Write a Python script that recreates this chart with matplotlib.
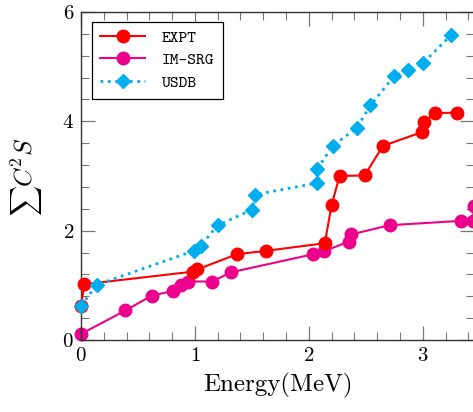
import numpy as np
import matplotlib
matplotlib.use('Agg')
import matplotlib.pyplot as plt
from matplotlib.ticker import MultipleLocator

plt.rcParams['font.family'] = 'serif'
plt.rcParams['font.serif'] = ['cmr10']
plt.rcParams['mathtext.fontset'] = 'cm'
plt.rcParams['axes.formatter.use_mathtext'] = True

# experimental data
expt_x = [0.0, 0.03, 0.98, 1.02, 1.37, 1.62, 2.14, 2.20, 2.27, 2.49, 2.65, 2.99, 3.01, 3.11, 3.30]
expt_y = [0.63, 1.02, 1.25, 1.29, 1.57, 1.63, 1.77, 2.47, 3.00, 3.01, 3.55, 3.80, 3.98, 4.15, 4.16]

# IM-SRG
imsrg_x = [0.0, 0.39, 0.62, 0.81, 0.88, 0.94, 1.15, 1.32, 2.04, 2.13, 2.35, 2.37, 2.71, 3.34, 3.44, 3.45]
imsrg_y = [0.11, 0.54, 0.81, 0.90, 1.01, 1.07, 1.07, 1.24, 1.57, 1.62, 1.80, 1.93, 2.10, 2.18, 2.18, 2.45]

# USDB
usdb_x = [0.0, 0.14, 0.99, 1.05, 1.20, 1.50, 1.53, 2.07, 2.07, 2.21, 2.42, 2.54, 2.75, 2.87, 3.00, 3.25]
usdb_y = [0.63, 1.01, 1.63, 1.72, 2.10, 2.38, 2.66, 2.87, 3.12, 3.55, 3.88, 4.29, 4.83, 4.93, 5.06, 5.58]

red = '#ff0000'
pink = '#ec008c'
cyan = '#00aeef'

fig = plt.figure(figsize=(4.73, 4.12), dpi=100)
ax = fig.add_axes([81/473, 72/412, 393/473, 328/412])

ax.plot(expt_x, expt_y, color=red, lw=1.5, marker='o', ms=9, label='EXPT', zorder=3, clip_on=False)
ax.plot(imsrg_x, imsrg_y, color=pink, lw=1.5, marker='o', ms=9, label='IM-SRG', zorder=2, clip_on=False)
ax.plot(usdb_x, usdb_y, color=cyan, lw=2, ls=':', marker='D', ms=7.5, label='USDB', zorder=4, clip_on=False)

ax.set_xlim(0, 3.45)
ax.set_ylim(0, 6)
ax.xaxis.set_major_locator(MultipleLocator(1))
ax.xaxis.set_minor_locator(MultipleLocator(0.2))
ax.yaxis.set_major_locator(MultipleLocator(2))
ax.yaxis.set_minor_locator(MultipleLocator(0.4))
ax.tick_params(which='both', direction='in', top=True, right=True, color='#777777', labelsize=15)
ax.tick_params(which='major', length=10, width=0.9, pad=5)
ax.tick_params(which='minor', length=6, width=0.8)
for s in ax.spines.values():
    s.set_color('#333333')
    s.set_linewidth(1.0)

ax.set_xlabel('Energy(MeV)', fontsize=18, labelpad=6)
# y label: sum sign drawn a bit smaller than in mathtext default
fig.text(27/473, 1 - 201/412, r'$\sum$', fontsize=15, rotation=90, ha='center', va='center')
fig.text(25/473, 1 - 162/412, r'$C^2S$', fontsize=18, rotation=90, ha='center', va='center')

leg = ax.legend(loc='upper left', bbox_to_anchor=(0.028, 0.97), borderaxespad=0, fancybox=False,
                edgecolor='black', framealpha=1, handlelength=2.7, handletextpad=1.0,
                prop={'family': 'cmtt10', 'size': 12}, borderpad=0.5, labelspacing=0.4)
leg.get_frame().set_linewidth(0.9)

fig.savefig('out.png', dpi=100)
